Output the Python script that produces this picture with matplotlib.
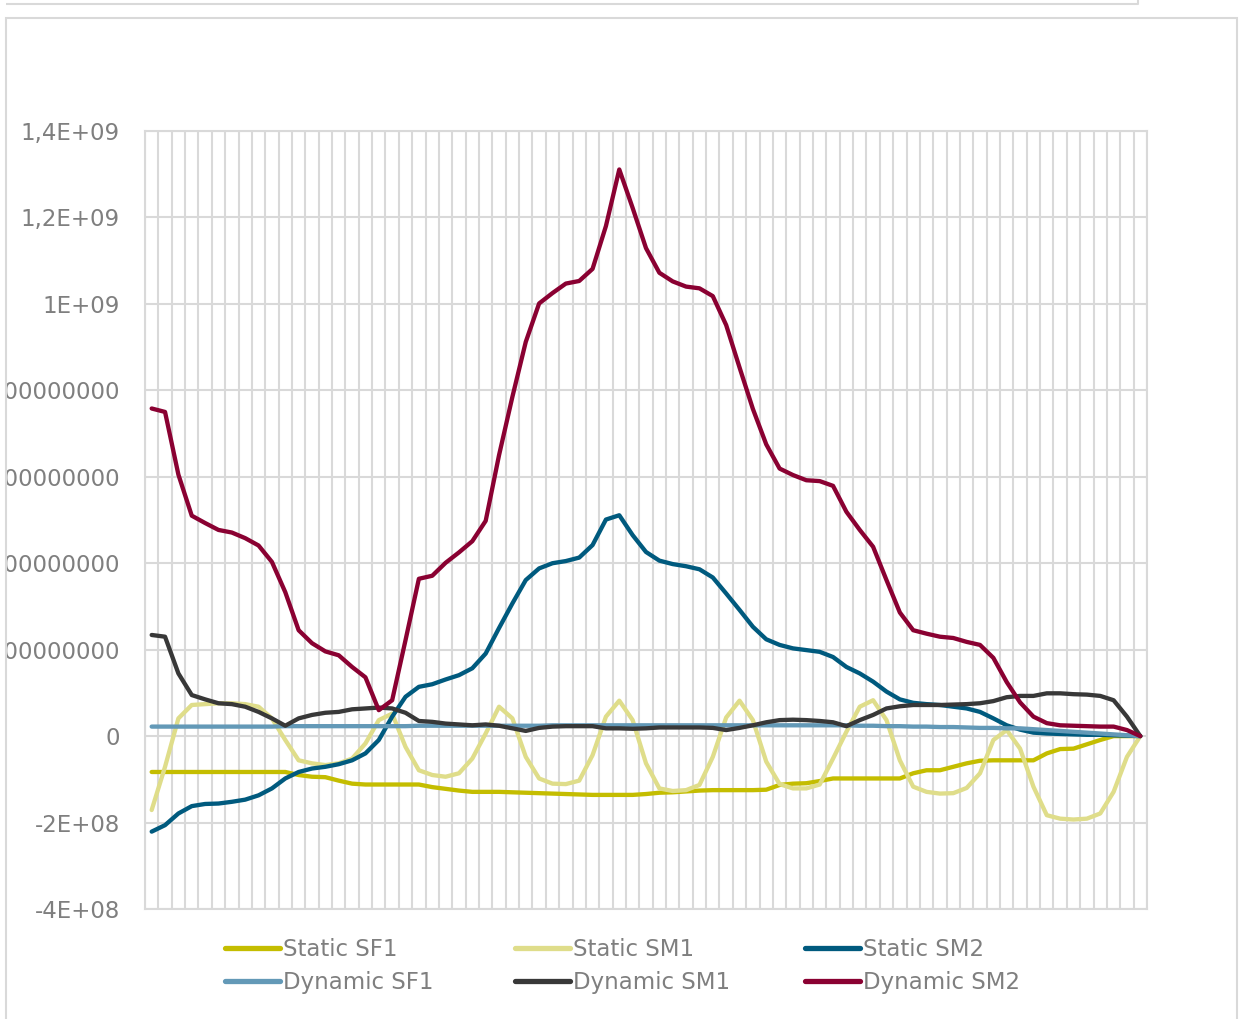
import numpy as np
import matplotlib
matplotlib.use('Agg')
from matplotlib import pyplot as plt
from matplotlib.lines import Line2D
from matplotlib.patches import Rectangle

# valori, in unitati de 1E+08
static_sf1 = [-0.83, -0.83, -0.83, -0.83, -0.83, -0.83, -0.83, -0.83, -0.83, -0.83,
              -0.83, -0.90, -0.94, -0.95, -1.03, -1.10, -1.12, -1.12, -1.12, -1.12,
              -1.12, -1.18, -1.22, -1.26, -1.29, -1.29, -1.29, -1.30, -1.31, -1.32,
              -1.33, -1.34, -1.35, -1.36, -1.36, -1.36, -1.36, -1.34, -1.31, -1.30,
              -1.28, -1.26, -1.25, -1.25, -1.25, -1.25, -1.24, -1.13, -1.10, -1.09,
              -1.04, -0.98, -0.98, -0.98, -0.98, -0.98, -0.98, -0.86, -0.79, -0.79,
              -0.71, -0.63, -0.57, -0.56, -0.56, -0.56, -0.56, -0.40, -0.30, -0.29,
              -0.19, -0.09, 0.0, 0.0, 0.0]
static_sm1 = [-1.71, -0.71, 0.41, 0.72, 0.74, 0.76, 0.76, 0.74, 0.68, 0.41,
              -0.09, -0.56, -0.63, -0.67, -0.63, -0.52, -0.17, 0.37, 0.52, -0.25,
              -0.79, -0.90, -0.94, -0.86, -0.52, 0.06, 0.68, 0.41, -0.48, -0.98,
              -1.10, -1.11, -1.03, -0.44, 0.45, 0.82, 0.37, -0.63, -1.21, -1.27,
              -1.25, -1.13, -0.48, 0.43, 0.82, 0.37, -0.59, -1.11, -1.21, -1.21,
              -1.12, -0.52, 0.10, 0.68, 0.83, 0.37, -0.56, -1.17, -1.29, -1.33,
              -1.32, -1.20, -0.86, -0.09, 0.14, -0.29, -1.17, -1.83, -1.91, -1.93,
              -1.91, -1.79, -1.29, -0.48, 0.0]
static_sm2 = [-2.21, -2.06, -1.79, -1.62, -1.57, -1.56, -1.52, -1.47, -1.37, -1.21,
              -0.98, -0.83, -0.75, -0.71, -0.65, -0.56, -0.40, -0.09, 0.45, 0.91,
              1.14, 1.20, 1.31, 1.41, 1.57, 1.91, 2.50, 3.07, 3.61, 3.88,
              4.00, 4.05, 4.13, 4.42, 5.01, 5.11, 4.65, 4.26, 4.06, 3.98,
              3.93, 3.86, 3.67, 3.30, 2.92, 2.53, 2.24, 2.11, 2.03, 1.99,
              1.95, 1.83, 1.60, 1.45, 1.26, 1.03, 0.85, 0.77, 0.74, 0.72,
              0.68, 0.64, 0.56, 0.41, 0.25, 0.15, 0.08, 0.06, 0.05, 0.04,
              0.03, 0.03, 0.02, 0.01, 0.0]
dynamic_sf1 = [0.22, 0.22, 0.22, 0.22, 0.22, 0.22, 0.22, 0.22, 0.22, 0.22,
               0.23, 0.23, 0.23, 0.23, 0.23, 0.23, 0.23, 0.23, 0.23, 0.23,
               0.24, 0.24, 0.24, 0.24, 0.24, 0.24, 0.24, 0.24, 0.24, 0.24,
               0.25, 0.25, 0.25, 0.25, 0.25, 0.25, 0.25, 0.25, 0.25, 0.25,
               0.25, 0.25, 0.25, 0.25, 0.25, 0.25, 0.25, 0.25, 0.25, 0.25,
               0.25, 0.25, 0.25, 0.24, 0.24, 0.23, 0.23, 0.22, 0.22, 0.21,
               0.21, 0.20, 0.19, 0.19, 0.18, 0.18, 0.16, 0.14, 0.12, 0.10,
               0.08, 0.06, 0.04, 0.02, 0.0]
dynamic_sm1 = [2.34, 2.30, 1.45, 0.95, 0.85, 0.76, 0.74, 0.68, 0.56, 0.41,
               0.24, 0.41, 0.49, 0.54, 0.56, 0.62, 0.64, 0.66, 0.64, 0.54,
               0.35, 0.33, 0.29, 0.27, 0.25, 0.27, 0.24, 0.18, 0.12, 0.19,
               0.22, 0.23, 0.23, 0.23, 0.18, 0.18, 0.17, 0.18, 0.20, 0.20,
               0.20, 0.20, 0.19, 0.14, 0.19, 0.25, 0.32, 0.37, 0.38, 0.37,
               0.35, 0.32, 0.23, 0.37, 0.49, 0.64, 0.69, 0.72, 0.72, 0.72,
               0.73, 0.74, 0.76, 0.81, 0.90, 0.93, 0.93, 0.99, 0.99, 0.97,
               0.96, 0.93, 0.83, 0.45, 0.0]
dynamic_sm2 = [7.58, 7.50, 6.05, 5.10, 4.93, 4.77, 4.71, 4.58, 4.41, 4.03,
               3.33, 2.45, 2.15, 1.96, 1.87, 1.60, 1.36, 0.60, 0.83, 2.22,
               3.64, 3.71, 4.01, 4.25, 4.51, 4.98, 6.50, 7.85, 9.12, 10.01,
               10.25, 10.47, 10.53, 10.81, 11.80, 13.11, 12.22, 11.29, 10.72, 10.52,
               10.40, 10.36, 10.18, 9.51, 8.53, 7.57, 6.75, 6.19, 6.04, 5.92,
               5.90, 5.79, 5.19, 4.77, 4.38, 3.61, 2.86, 2.45, 2.37, 2.30,
               2.27, 2.18, 2.11, 1.81, 1.25, 0.78, 0.45, 0.30, 0.25, 0.24,
               0.23, 0.22, 0.22, 0.14, 0.0]

scale = 1e8
series_names = ['Static SF1', 'Static SM1', 'Static SM2',
                'Dynamic SF1', 'Dynamic SM1', 'Dynamic SM2']
series_colors = ['#C4BD00', '#DFDD8A', '#005A7E', '#6399B7', '#383838', '#8A0132']
y_ticks = [-4e8, -2e8, 0, 2e8, 4e8, 6e8, 8e8, 1e9, 1.2e9, 1.4e9]
y_labels = ['-4E+08', '-2E+08', '0', '200000000', '400000000', '600000000',
            '800000000', '1E+09', '1,2E+09', '1,4E+09']

W, H = 1241, 1019
fig = plt.figure(figsize=(W / 100, H / 100), dpi=100)
ax = fig.add_axes([145 / W, 1 - 909 / H, (1147 - 145) / W, (909 - 131) / H])

grid_c = '#D9D9D9'
text_c = '#7F7F7F'

data = [static_sf1, static_sm1, static_sm2, dynamic_sf1, dynamic_sm1, dynamic_sm2]
x = np.arange(len(static_sf1))
handles = []
for vals, name, col in zip(data, series_names, series_colors):
    ln, = ax.plot(x, np.array(vals) * scale, color=col, lw=3.1, label=name,
                  solid_joinstyle='round', solid_capstyle='round', zorder=3)
    handles.append(ln)

ax.set_xlim(-0.5, len(x) - 0.5)
ax.set_ylim(-4e8, 1.4e9)
ax.set_yticks(y_ticks)
ax.set_yticklabels(y_labels)
ax.set_xticks(np.arange(-0.5, len(x), 1))
ax.set_xticklabels([])
ax.tick_params(axis='both', length=0)
ax.tick_params(axis='y', pad=18, labelsize=16.5, labelcolor=text_c)
ax.grid(True, color=grid_c, lw=1.5, zorder=0)
ax.set_axisbelow(True)
for s in ax.spines.values():
    s.set_color(grid_c)
    s.set_linewidth(1.5)

# legenda pe trei coloane, asezata manual
legend_x = [225, 515, 805]
for k, lx in enumerate(legend_x):
    lg = fig.legend(handles=[handles[k], handles[k + 3]], loc='upper left',
                    bbox_to_anchor=(lx / W, 1 - 938 / H), frameon=False,
                    fontsize=16.5, labelcolor=text_c, handlelength=2.4,
                    handletextpad=0.15, labelspacing=0.42, borderpad=0,
                    borderaxespad=0)
    for h in lg.legend_handles:
        h.set_linewidth(3.8)

# chenarul zonei graficului
fig.patches.append(Rectangle((0, 0), 6 / W, 1, transform=fig.transFigure,
                             facecolor='white', edgecolor='none', zorder=10))
fig.patches.append(Rectangle((6 / W, -0.01), (1237 - 6) / W, 1.01 - 18 / H,
                             transform=fig.transFigure, facecolor='none',
                             edgecolor=grid_c, lw=1.5, zorder=11))
fig.lines.append(Line2D([0, 1138 / W, 1138 / W], [1 - 4 / H, 1 - 4 / H, 1],
                        transform=fig.transFigure, color=grid_c, lw=1.5))

fig.savefig('out.png', dpi=100)
